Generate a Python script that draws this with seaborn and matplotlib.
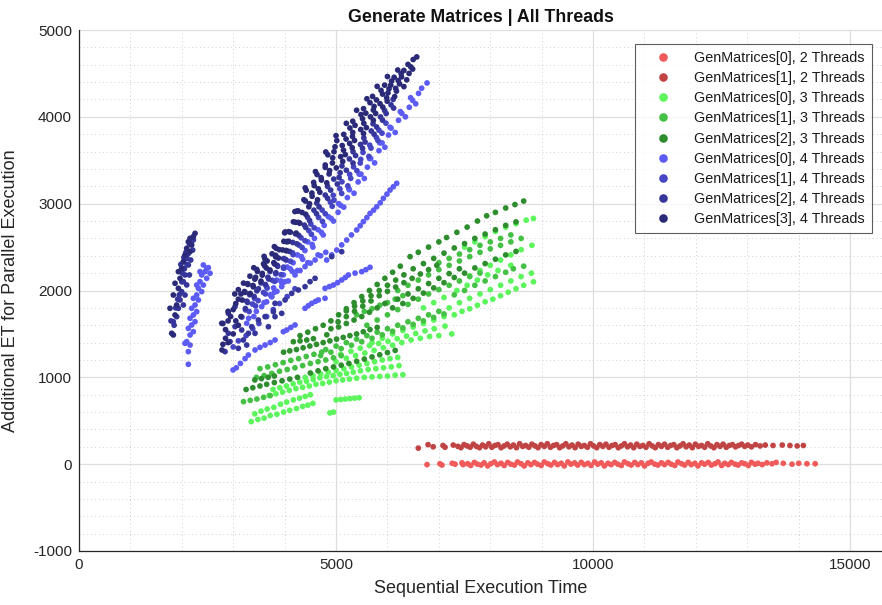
import matplotlib
matplotlib.use("Agg")
import matplotlib.pyplot as plt
from matplotlib import font_manager
import seaborn as sns
import pandas as pd

# ---------------- data ----------------
series_names = [
    "GenMatrices[0], 2 Threads", "GenMatrices[1], 2 Threads",
    "GenMatrices[0], 3 Threads", "GenMatrices[1], 3 Threads", "GenMatrices[2], 3 Threads",
    "GenMatrices[0], 4 Threads", "GenMatrices[1], 4 Threads", "GenMatrices[2], 4 Threads",
    "GenMatrices[3], 4 Threads",
]
series_colors = ["#f05a5a", "#c04444", "#5cf55c", "#44c044", "#2e8e2e",
                 "#5c5cf5", "#4646c4", "#36369a", "#2a2a78"]

gm0_t2 = [(6770,-5),(7020,5),(7060,-10),(7260,10),(7315,0),(7450,15),(7470,-5),(7560,5),(7620,-15),(7690,20),
          (7750,0),(7820,-10),(7880,15),(7950,-20),(8010,5),(8080,25),(8140,-5),(8210,10),(8270,-15),(8340,20),
          (8400,0),(8470,-10),(8530,25),(8600,5),(8660,-20),(8730,15),(8790,-5),(8860,20),(8920,0),(8990,-15),
          (9050,25),(9120,5),(9180,-10),(9250,20),(9310,-5),(9380,10),(9440,-20),(9510,25),(9570,0),(9640,15),
          (9700,-10),(9770,20),(9830,-5),(9900,10),(9960,-15),(10030,25),(10090,0),(10160,15),(10220,-20),(10290,10),
          (10350,-5),(10420,20),(10480,0),(10550,-15),(10610,25),(10680,5),(10740,-10),(10810,20),(10870,-5),(10940,15),
          (11000,-20),(11070,10),(11130,25),(11200,0),(11260,-10),(11330,15),(11390,-5),(11460,20),(11520,0),(11590,-15),
          (11650,25),(11720,5),(11780,-10),(11850,20),(11910,-5),(11980,10),(12040,-20),(12110,15),(12170,0),(12240,20),
          (12300,-10),(12370,5),(12430,25),(12500,-15),(12560,10),(12630,-5),(12690,20),(12760,0),(12820,-10),(12890,15),
          (12950,5),(13020,-15),(13080,20),(13150,0),(13210,10),(13290,-5),(13380,15),(13480,5),(13560,20),(13700,10),
          (13870,0),(14000,10),(14160,5),(14320,5)]

gm1_t2 = [(6600,185),(6790,225),(6890,200),(7080,215),(7120,195),(7280,220),(7370,205),(7430,190),(7490,225),(7550,210),
          (7610,195),(7670,230),(7730,205),(7790,190),(7850,220),(7910,200),(7970,235),(8030,195),(8090,215),(8150,225),
          (8210,190),(8270,210),(8330,230),(8390,200),(8450,220),(8510,190),(8570,235),(8630,205),(8690,215),(8750,195),
          (8810,230),(8870,210),(8930,190),(8990,225),(9050,205),(9110,235),(9170,195),(9230,215),(9290,225),(9350,190),
          (9410,210),(9470,235),(9530,200),(9590,220),(9650,190),(9710,230),(9770,205),(9830,215),(9890,195),(9950,235),
          (10010,210),(10070,190),(10130,225),(10190,205),(10250,230),(10310,195),(10370,215),(10430,225),(10490,190),(10550,210),
          (10610,235),(10670,200),(10730,220),(10790,190),(10850,230),(10910,205),(10970,215),(11030,195),(11090,235),(11150,210),
          (11210,190),(11270,225),(11330,205),(11390,230),(11450,195),(11510,215),(11570,225),(11630,190),(11690,210),(11750,235),
          (11810,200),(11870,220),(11930,190),(11990,230),(12050,205),(12110,215),(12170,195),(12230,235),(12290,210),(12350,190),
          (12410,225),(12470,205),(12530,230),(12590,195),(12650,215),(12710,225),(12770,200),(12830,215),(12890,230),(12950,205),
          (13010,220),(13080,200),(13160,225),(13250,210),(13350,220),(13500,215),(13680,220),(13830,215),(13970,210),(14090,215)]

gm0_t3 = [(3350,490),(3480,515),(3600,530),(3720,560),(3850,575),(3980,600),(4100,620),(4230,640),(4350,665),(4450,680),(4550,700),
          (3420,580),(3540,610),(3660,635),(3790,655),(3920,690),(4040,715),(4170,740),(4290,760),(4400,780),(4500,800),
          (4880,590),(4950,600),(5000,740),(5090,745),(5180,750),(5270,755),(5360,760),(5450,765),
          (3700,790),(3830,810),(3960,830),(4090,850),(4220,870),(4350,885),(4480,900),(4610,920),(4740,930),(4870,945),
          (5000,960),(5130,970),(5260,980),(5400,990),(5550,1000),(5700,1005),(5850,1010),(6000,1015),(6150,1025),(6300,1030),
          (3775,860),(3905,880),(4035,900),(4165,925),(4295,945),(4425,955),(4555,975),(4685,995),(4815,1010),(4945,1020),
          (5075,1035),(5205,1045),(5335,1060),(5475,1075),(5625,1090),(5775,1100),(5925,1110),(6075,1120),(6225,1135),
          (4400,1000),(4550,1020),(4700,1040),(4850,1060),(5000,1080),(5150,1100),(5300,1120),(5450,1140),(5600,1160),
          (5750,1180),(5900,1200),(6050,1215),(6200,1230),
          (5000,1180),(5200,1220),(5380,1250),(5560,1280),(5740,1310),(5920,1340),(6100,1370),(6280,1400),(6460,1430),
          (6640,1450),(6820,1470),(7000,1480),(7250,1500),
          (5090,1265),(5290,1300),(5470,1335),(5650,1365),(5830,1390),(6010,1415),(6190,1445),(6370,1475),(6550,1505),
          (6730,1535),(6910,1560),(7120,1590),
          (5700,1400),(5900,1450),(6100,1500),(6300,1540),(6500,1580),(6700,1620),(6900,1660),(7100,1700),
          (7300,1720),(7450,1760),(7600,1790),(7750,1830),(7900,1870),(8050,1900),(8200,1940),(8350,1980),(8500,2020),
          (8650,2060),(8840,2100),
          (7200,1800),(7400,1860),(7600,1910),(7800,1960),(8000,2010),(8200,2060),(8400,2110),(8600,2160),(8800,2200),
          (6700,1800),(6900,1860),(7100,1920),(7350,2000),(7550,2060),(7750,2120),(7950,2180),(8150,2230),(8400,2290),
          (7600,2170),(7800,2230),(8000,2290),(8200,2350),(8400,2410),(8600,2470),(8810,2520),
          (7500,2500),(7700,2560),(7900,2620),(8100,2680),(8300,2730),(8500,2770),(8700,2810),(8840,2830)]

gm1_t3 = [(3200,720),(3330,735),(3460,750),(3590,770),(3720,790),
          (3450,1000),(3600,1020),(3750,1045),(3900,1070),(4050,1090),(4200,1110),(4350,1135),(4500,1160),(4650,1180),
          (4800,1200),(4950,1225),(5100,1250),
          (3520,1100),(3670,1120),(3820,1145),(3970,1170),(4120,1195),(4270,1215),(4420,1240),(4570,1265),(4720,1290),
          (4700,1250),(4900,1290),(5100,1330),(5300,1370),(5500,1410),(5700,1450),(5900,1490),(6100,1530),(6300,1570),
          (6500,1610),(6700,1650),(6900,1690),(7100,1730),
          (4800,1320),(5000,1360),(5200,1400),(5400,1440),(5600,1480),(5800,1520),(6000,1560),(6200,1600),(6400,1640),
          (6600,1680),(6800,1720),(7000,1760),
          (5600,1600),(5800,1660),(6000,1720),(6200,1780),(6400,1840),(6600,1900),(6800,1960),(7000,2010),(7200,2060),
          (7400,2110),(7600,2160),(7800,2200),
          (5400,1720),(5550,1760),(5700,1790),(5850,1830),(6000,1860),(6150,1900),(6300,1940),
          (6200,2000),(6400,2060),(6600,2120),(6800,2180),(7000,2240),(7200,2290),(7400,2340),(7600,2390),(7800,2440),
          (8000,2480),(8200,2520),(8400,2560),(8600,2600),
          (7000,2320),(7200,2370),(7400,2420),(7600,2470),(7800,2520),(8000,2560),(8200,2600),(8400,2640),
          (7300,1950),(7500,2000),(7700,2060),(7900,2110),(8100,2160),(8300,2210),(8450,2250),(8650,2280)]

gm2_t3 = [(3420,970),(3550,985),(3680,1000),(3800,1015),
          (3980,1290),(4100,1305),(4230,1320),(4360,1340),(4490,1360),(4620,1380),(4750,1400),(4880,1420),(5010,1440),
          (5140,1460),(5270,1480),(5400,1500),(5530,1525),(5660,1550),(5800,1575),
          (4170,1410),(4300,1420),(4430,1430),(4560,1445),(4820,1490),
          (4300,1480),(4450,1520),(4600,1560),(4750,1600),(4900,1650),(5050,1720),(5200,1790),(5350,1860),(5500,1930),
          (5650,2000),(5800,2070),
          (4900,1560),(5050,1580),(5200,1620),(5350,1660),(5500,1700),(5650,1750),(5800,1800),(5950,1850),
          (5040,1640),(5200,1700),(5360,1760),(5520,1820),(5680,1880),(5840,1940),(6000,1990),(6160,2040),(6320,2090),
          (6480,2140),(6640,2190),(6800,2240),(6960,2290),
          (5200,1765),(5360,1820),(5520,1880),(5680,1940),(5840,2000),(6000,2060),(6160,2120),(6320,2180),
          (5950,2140),(6100,2210),(6250,2280),(6440,2390),(6600,2440),(6800,2500),(7000,2560),(7150,2610),(7350,2670),
          (7550,2730),(7750,2800),(7930,2860),(8100,2900),(8300,2950),(8480,2990),(8650,3030),
          (4500,1050),(4650,1075),(4800,1100),(4950,1120),(5100,1140),(5250,1160),(5400,1185),(5550,1210),(5700,1235),
          (5850,1260),(6000,1285),(6150,1310),
          (6100,1800),(6300,1850),(6500,1910),(6700,1970),(6900,2030),(7100,2090),(7300,2150),(7500,2200),(7700,2260),
          (7900,2310),(8100,2360),(8300,2410),(8500,2450),
          (6200,1900),(6400,1960),(6600,2020),(6800,2080),(7000,2140),(7200,2195),(7400,2250),
          (6500,2250),(6700,2310),(6900,2370),(7100,2430),(7300,2490),(7500,2540),(7700,2600),(7900,2650),(8100,2700),
          (8300,2750),(8500,2790),
          (3250,860),(3380,880),(3520,900),(3650,920),(3800,940),(3950,960),(4100,980),(4250,1000)]

gm0_t4 = [(2516,2263),(2419,2294),(2451,2217),(2387,2179),(2484,2140),(2354,2102),(2419,2063),(2322,2025),(2387,1987),
          (2289,1948),(2224,1910),(2322,1891),(2257,1833),(2192,1795),(2289,1756),(2224,1718),(2160,1680),(2257,1641),
          (2192,1603),(2127,1564),(2224,1526),(2160,1488),(2095,1411),(2062,1392),(2160,1372),(2127,1296),(2127,1150),
          (2354,2217),(2484,2255),(2549,2198),(2289,2063),
          (2996,1085),(3060,1110),(3140,1160),(3230,1215),(3295,1257),(3424,1315),(3520,1345),(3619,1372),(3720,1400),
          (3813,1430),(3975,1526),(4040,1545),(4120,1575),(4202,1603),(4397,1795),(4460,1825),(4527,1852),(4600,1875),
          (4656,1891),(4786,1910),(4786,2025),(4870,2045),(4948,2063),(5030,2090),(5110,2121),(5180,2150),(5240,2179),
          (5370,2200),(5499,2217),(5580,2240),(5661,2267),
          (3262,1622),(3400,1700),(3554,1814),(3650,1870),(3748,1929),(3850,1990),(3943,2044),(4070,2110),(4202,2179),
          (4300,2230),(4397,2275),(4500,2315),(4592,2351),(4700,2400),(4800,2440),
          (3300,1680),(3450,1760),(3600,1860),(3800,1980),(4000,2100),(4250,2230),(4450,2320),(4650,2410),
          (4818,2351),(4916,2410),(5013,2466),(5110,2525),(5207,2581),(5300,2640),(5402,2697),(5470,2745),(5532,2793),
          (5600,2840),(5661,2888),(5730,2925),(5791,2965),(5860,3010),(5921,3061),(5990,3110),(6050,3157),(6115,3195),
          (6180,3234),
          (3720,1950),(3785,2030),(3930,2110),(3975,2180),(4110,2250),(4165,2320),(4325,2390),(4395,2460),(4535,2530),
          (4580,2600),(4715,2670),(4770,2750),(4905,2830),(5040,2900),(5090,2980),(5220,3070),(5260,3160),(5430,3250),
          (5485,3340),(5610,3420),(5675,3520),(5835,3610),(5895,3700),(6020,3790),(6070,3870),(6215,3960),(6280,4040),
          (6425,4110),(6490,4190),(6605,4270),(6665,4330),(6770,4390),
          (3750,1930),(3950,2080),(4150,2220),(4350,2360),(4550,2500),(4750,2640),(4950,2800),(5150,2960),(5350,3120),
          (5550,3290),(5750,3470),(5950,3650),(6150,3820),(6350,4000),(6550,4150),
          (3850,2120),(4050,2270),(4250,2410),(4450,2560),(4650,2700),(4850,2850),(5050,3000),(5250,3170),(5450,3340),
          (5650,3520),(5850,3700),(6050,3880),(6250,4060),(6450,4220)]

gm1_t4 = [(3170,1694),(3310,1758),(3435,1822),(3485,1884),(3625,1961),(3660,2028),(3805,2105),(3930,2182),(3980,2256),
          (4115,2336),(4165,2413),(4340,2495),(4395,2574),(4520,2648),(4575,2722),(4735,2796),(4790,2884),(4925,2970),
          (4960,3040),(5110,3118),(5230,3205),(5285,3292),(5405,3380),(5470,3468),(5640,3544),(5680,3640),(5815,3727),
          (5895,3812),
          (3240,1776),(3375,1844),(3415,1909),(3590,1977),(3645,2047),(3765,2117),(3825,2192),(3980,2269),(4035,2350),
          (4155,2434),(4285,2520),(4320,2607),(4470,2689),(4510,2765),(4660,2841),(4730,2926),(4890,3017),(4945,3097),
          (5075,3171),(5115,3252),(5265,3337),(5340,3424),(5480,3510),(5525,3590),(5655,3674),(5785,3762),(5835,3846),
          (5970,3927),
          (3000,1350),(3100,1420),(3250,1480),(3380,1560),(3500,1620),(3650,1700),(3780,1780),(3900,1850),(4050,1930),
          (4200,2020)]

gm2_t4 = [(2095,2370),(2127,2294),(2062,2179),(2030,2102),(1997,1987),(1965,1891),(1900,1699),(2224,2582),(2030,1833),
          (2062,1948),(2095,2064),(2147,2179),(2173,2351),(2211,2466),(1835,1641),(1933,1795),
          (1980,2300),(2010,2200),(2050,2250),(2100,2300),(2120,2420),(2180,2560),(2000,2100),(1950,1950),(1920,1900),
          (1880,1800),(1850,1600),(1790,1650),(2150,2530),(2080,2440),(2040,2380),
          (3235,1792),(3280,1862),(3405,1932),(3460,1996),(3625,2069),(3690,2132),(3830,2205),(3865,2278),(4015,2358),
          (4095,2450),(4240,2537),(4275,2635),(4410,2726),(4485,2806),(4620,2884),(4670,2964),(4835,3062),(4895,3156),
          (5025,3226),(5060,3302),(5200,3385),(5330,3468),(5380,3554),(5515,3638),(5565,3710),(5740,3800),(5790,3883),
          (5905,3962),(5975,4038),(6120,4101),
          (3265,1877),(3320,1951),(3490,2020),(3540,2087),(3675,2153),(3715,2219),(3855,2290),(3980,2368),(4030,2458),
          (4160,2553),(4210,2652),(4385,2753),(4445,2844),(4570,2925),(4625,3006),(4790,3099),(4835,3199),(4955,3283),
          (5080,3356),(5115,3434),(5260,3515),(5330,3599),(5475,3682),(5540,3758),(5685,3837),(5720,3920),(5865,3999),
          (5945,4073),(6070,4138),(6110,4201),
          (2938,1411),(2841,1296),(3035,1584),(3165,1545),(3295,1507),(3197,1430),(3359,1583),(3619,1699),(3489,1660),
          (3781,1756),(3813,1852),(3943,1737),(4008,1891),(4138,1967),(4267,2006),(4397,2044),(4494,2102),(4592,2140),
          (4916,2390),(5110,2447),(3813,1699),(3684,1583),(3424,1507),(3262,1372),(3100,1334),(2905,1507),(2776,1622),
          (2905,1737),(3035,1814)]

gm3_t4 = [(1803,1507),(1835,1488),(1770,1795),(1868,1718),(1900,1833),(1835,1948),(1933,2025),(1868,2083),(1965,2140),
          (1933,2217),(1997,2255),(2030,2332),(2062,2409),(2095,2486),(2127,2562),(2160,2601),(2224,2620),(2257,2658),
          (2192,2524),(2160,2447),
          (2800,1620),(2900,1760),(3030,1960),(3100,2010),
          (3200,2085),(3400,2262),(3600,2393),(3800,2505),(4000,2664),(4200,2909),(4400,3182),(4600,3369),(4800,3595),
          (5000,3783),(5200,3925),(5400,4076),(5600,4208),(5800,4351),(6000,4464),(6200,4539),(6400,4604),(6500,4660),
          (6570,4690),
          (3280,2079),(3325,2165),(3460,2242),(3590,2307),(3615,2365),(3755,2423),(3835,2486),(3985,2566),(4010,2674),
          (4170,2791),(4245,2916),(4375,3045),(4420,3154),(4565,3245),(4630,3336),(4790,3445),(4840,3563),(4980,3655),
          (5015,3726),(5150,3798),(5270,3871),(5325,3949),(5485,4026),(5535,4094),(5660,4163),(5710,4236),(5875,4305),
          (5945,4365),(6080,4412),(6130,4455),(6265,4497),(6320,4534),(6455,4575),
          (3220,1988),(3285,2070),(3435,2152),(3470,2220),(3610,2285),(3660,2340),(3825,2405),(3895,2470),(4040,2562),
          (4080,2678),(4215,2785),(4265,2915),(4405,3030),(4530,3122),(4575,3208),(4710,3300),(4790,3418),(4935,3528),
          (4960,3598),(5120,3670),(5195,3745),(5325,3820),(5370,3902),(5515,3978),(5580,4042),(5740,4120),(5785,4195),
          (5905,4262),(6030,4322),(6065,4365),(6210,4418),(6275,4460),(6420,4500),(6490,4550),
          (3230,1978),(3385,2058),(3420,2131),(3565,2197),(3645,2259),(3790,2321),(3825,2388),(3960,2467),(4080,2566),
          (4110,2672),(4270,2784),(4340,2899),(4485,2999),(4535,3085),(4655,3171),(4715,3272),(4875,3381),(4930,3469),
          (5090,3541),(5145,3616),(5265,3693),(5320,3774),(5480,3854),(5540,3926),(5670,4000),(5725,4078),(5855,4152),
          (5985,4219),(6010,4275),(6160,4328),(6235,4380),(6375,4426),
          (3175,1890),(3330,1966),(3390,2042),(3540,2108),(3565,2177),(3715,2236),(3805,2305),(3880,2374),(4035,2460),
          (4060,2564),(4225,2661),(4295,2775),(4410,2878),(4470,2964),(4640,3045),(4685,3132),(4820,3240),(4865,3342),
          (5005,3412),(5130,3486),(5180,3565),(5315,3644),(5360,3728),(5535,3808),(5590,3876),(5725,3960),(5770,4039),
          (5910,4112),(5995,4180),(6140,4233),(6175,4296),(6320,4348),
          (2782,1315),(2800,1380),(2850,1450),(2850,1550),(2900,1650),(2950,1700),(3000,1780),(3050,1850),(3100,1900),
          (3150,1960),(2900,1400),(3000,1500),(3100,1600),(3150,1700),(3050,1650)]

series_points = [gm0_t2, gm1_t2, gm0_t3, gm1_t3, gm2_t3, gm0_t4, gm1_t4, gm2_t4, gm3_t4]

x_ticks = [0, 5000, 10000, 15000]
y_ticks = [-1000, 0, 1000, 2000, 3000, 4000, 5000]

# ---------------- build table ----------------
rows = []
for name, pts in zip(series_names, series_points):
    for x, y in pts:
        rows.append((name, x, y))
df = pd.DataFrame(rows, columns=["series", "x", "y"])

sns.set_style("white")
names = {f.name for f in font_manager.fontManager.ttflist}
base_font = "Liberation Sans" if "Liberation Sans" in names else "DejaVu Sans"
plt.rcParams["font.family"] = [base_font, "DejaVu Sans"]

fig = plt.figure(figsize=(8.82, 6.05), dpi=100)
ax = fig.add_axes([79/882, 54/605, 803/882, 521/605])

sns.scatterplot(data=df, x="x", y="y", hue="series", hue_order=series_names,
                palette=dict(zip(series_names, series_colors)),
                s=17, linewidth=0, edgecolor="none", ax=ax, legend=True, zorder=3)

ax.set_xlim(0, 15620)
ax.set_ylim(-1000, 5000)
ax.set_xticks(x_ticks)
ax.set_yticks(y_ticks)
ax.set_xticks(range(1000, 15001, 1000), minor=True)
ax.set_yticks(range(-1000, 5001, 200), minor=True)
ax.set_xticklabels([str(v) for v in x_ticks])
ax.set_yticklabels([str(v) for v in y_ticks])

ax.grid(True, which="major", color="#dedede", linewidth=0.9, linestyle="-", zorder=0)
ax.grid(True, which="minor", color="#cfcfcf", linewidth=0.7, linestyle=(0, (1, 3)), zorder=0)
ax.set_axisbelow(True)

for side in ["top", "right"]:
    ax.spines[side].set_visible(False)
for side in ["left", "bottom"]:
    ax.spines[side].set_color("#262626")
    ax.spines[side].set_linewidth(0.9)

ax.tick_params(axis="both", which="major", direction="in", length=4, width=0.8,
               colors="#262626", labelsize=11, pad=5)
ax.tick_params(axis="both", which="minor", length=0)

ax.set_title("Generate Matrices | All Threads", fontsize=12.8, fontweight="bold", color="#111111", pad=6)
ax.set_xlabel("Sequential Execution Time", fontsize=13, color="#262626", labelpad=6)
ax.set_ylabel("Additional ET for Parallel Execution", fontsize=13, color="#262626", labelpad=10)

handles, labels = ax.get_legend_handles_labels()
leg = ax.legend(handles, labels, loc="upper right", bbox_to_anchor=(0.9875, 0.973),
                borderaxespad=0, frameon=True, fancybox=False, fontsize=10.4,
                markerscale=1.5, handletextpad=0.7, labelspacing=0.42,
                borderpad=0.5, handlelength=2.9)
leg.get_frame().set_edgecolor("#333333")
leg.get_frame().set_linewidth(0.8)
for t in leg.get_texts():
    t.set_color("#1a1a1a")

fig.savefig("out.png", dpi=100)
